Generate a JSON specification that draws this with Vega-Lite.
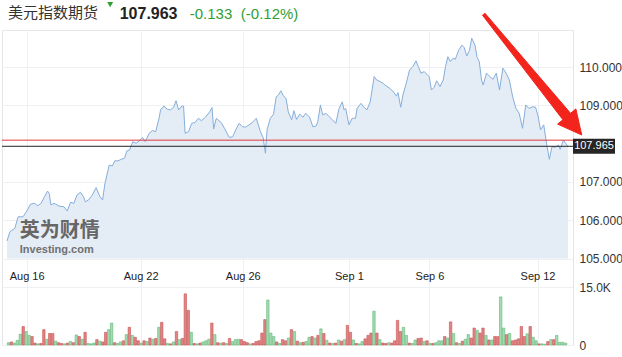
{
"$schema":"https://vega.github.io/schema/vega-lite/v6.json",
"width":571,"height":315,
"autosize":{"type":"none"},
"padding":{"left":2,"top":30,"right":49,"bottom":12},
"background":"#ffffff",
"config":{"view":{"stroke":"#e6e6e6"},"font":"Liberation Sans","axis":{"labelFont":"Liberation Sans"}},
"datasets":{
"price":[{"t":-0.5,"p":105.46},{"t":0.5,"p":105.70},{"t":2.17,"p":105.79},{"t":3.27,"p":106.09},{"t":4.93,"p":106.09},{"t":6.07,"p":106.22},{"t":7.5,"p":106.42},{"t":8.83,"p":106.44},{"t":9.93,"p":106.38},{"t":11.07,"p":106.44},{"t":12.17,"p":106.61},{"t":13.27,"p":106.76},{"t":13.83,"p":106.70},{"t":14.4,"p":106.40},{"t":15.5,"p":106.44},{"t":17.17,"p":106.37},{"t":18.83,"p":106.35},{"t":19.93,"p":106.24},{"t":21.07,"p":106.47},{"t":22.17,"p":106.44},{"t":23.27,"p":106.66},{"t":24.4,"p":106.73},{"t":25.5,"p":106.61},{"t":26.07,"p":106.48},{"t":27.17,"p":106.53},{"t":28.27,"p":106.64},{"t":29.73,"p":106.85},{"t":31.07,"p":106.61},{"t":31.93,"p":106.53},{"t":32.73,"p":106.96},{"t":34.17,"p":107.44},{"t":35.27,"p":107.42},{"t":36.07,"p":107.55},{"t":37.17,"p":107.55},{"t":38.27,"p":107.59},{"t":39.4,"p":107.62},{"t":40.17,"p":107.81},{"t":41.07,"p":107.83},{"t":42.17,"p":108.05},{"t":43.27,"p":108.01},{"t":44.4,"p":108.07},{"t":45.5,"p":108.16},{"t":46.4,"p":108.05},{"t":47.73,"p":108.27},{"t":48.83,"p":108.34},{"t":49.93,"p":108.31},{"t":51.07,"p":108.66},{"t":51.6,"p":108.88},{"t":52.73,"p":108.98},{"t":53.83,"p":108.90},{"t":54.93,"p":108.88},{"t":56.07,"p":108.95},{"t":56.83,"p":109.12},{"t":57.73,"p":108.88},{"t":58.83,"p":108.98},{"t":59.4,"p":108.98},{"t":59.93,"p":108.27},{"t":61.07,"p":108.31},{"t":62.17,"p":108.53},{"t":63.27,"p":108.55},{"t":64.4,"p":108.66},{"t":65.5,"p":108.60},{"t":66.83,"p":108.69},{"t":68.27,"p":108.83},{"t":69.07,"p":108.94},{"t":69.6,"p":108.38},{"t":70.5,"p":108.66},{"t":72.17,"p":108.55},{"t":73.27,"p":108.40},{"t":74.93,"p":108.16},{"t":76.07,"p":108.18},{"t":77.17,"p":108.37},{"t":78.27,"p":108.53},{"t":79.4,"p":108.44},{"t":80.5,"p":108.43},{"t":81.6,"p":108.49},{"t":82.73,"p":108.55},{"t":84.07,"p":108.66},{"t":85.5,"p":108.31},{"t":86.4,"p":108.16},{"t":87.17,"p":107.75},{"t":87.73,"p":108.36},{"t":88.83,"p":108.66},{"t":89.93,"p":108.77},{"t":90.83,"p":109.22},{"t":91.6,"p":109.27},{"t":92.4,"p":109.38},{"t":93.27,"p":109.25},{"t":94.17,"p":109.18},{"t":94.93,"p":108.83},{"t":96.07,"p":108.62},{"t":96.83,"p":108.86},{"t":97.73,"p":108.63},{"t":98.83,"p":108.77},{"t":99.93,"p":108.69},{"t":100.83,"p":108.79},{"t":102.17,"p":108.69},{"t":103.27,"p":108.44},{"t":104.4,"p":108.46},{"t":104.93,"p":108.57},{"t":105.83,"p":109.01},{"t":106.6,"p":108.75},{"t":107.73,"p":108.79},{"t":108.83,"p":108.70},{"t":109.93,"p":108.62},{"t":111.07,"p":108.53},{"t":112.17,"p":108.92},{"t":113.27,"p":109.09},{"t":113.83,"p":108.88},{"t":114.4,"p":108.92},{"t":115.5,"p":108.49},{"t":116.6,"p":108.66},{"t":117.73,"p":108.66},{"t":118.27,"p":108.92},{"t":119.6,"p":109.05},{"t":120.5,"p":108.96},{"t":121.6,"p":108.88},{"t":122.73,"p":109.09},{"t":123.27,"p":109.36},{"t":124.07,"p":109.75},{"t":124.93,"p":109.66},{"t":126.07,"p":109.62},{"t":127.17,"p":109.57},{"t":127.73,"p":109.53},{"t":129.4,"p":109.44},{"t":130.5,"p":109.36},{"t":131.6,"p":109.24},{"t":132.17,"p":109.33},{"t":133.07,"p":108.95},{"t":133.83,"p":109.27},{"t":134.93,"p":109.57},{"t":136.07,"p":109.92},{"t":137.17,"p":110.01},{"t":138.27,"p":110.16},{"t":139.07,"p":110.01},{"t":139.93,"p":109.84},{"t":141.07,"p":109.88},{"t":142.17,"p":109.79},{"t":142.73,"p":109.75},{"t":143.5,"p":109.40},{"t":144.4,"p":109.47},{"t":145.27,"p":109.64},{"t":146.4,"p":109.49},{"t":147.5,"p":109.66},{"t":148.27,"p":110.01},{"t":149.07,"p":110.27},{"t":149.93,"p":110.14},{"t":150.83,"p":110.23},{"t":151.6,"p":110.20},{"t":152.73,"p":110.44},{"t":153.83,"p":110.57},{"t":154.6,"p":110.51},{"t":155.5,"p":110.29},{"t":156.4,"p":110.44},{"t":157.17,"p":110.75},{"t":158.27,"p":110.57},{"t":159,"p":110.25},{"t":159.73,"p":110.14},{"t":160.5,"p":109.66},{"t":161.07,"p":109.53},{"t":162.17,"p":109.84},{"t":163.27,"p":109.75},{"t":164.4,"p":109.68},{"t":165.5,"p":109.84},{"t":166.6,"p":109.40},{"t":167.73,"p":109.97},{"t":168.83,"p":109.84},{"t":169.93,"p":109.66},{"t":171.07,"p":109.22},{"t":172.17,"p":108.92},{"t":173.27,"p":108.79},{"t":174.4,"p":108.40},{"t":175.5,"p":109.01},{"t":176.6,"p":108.92},{"t":177.73,"p":108.96},{"t":178.83,"p":108.95},{"t":179.73,"p":108.70},{"t":180.5,"p":108.36},{"t":181.6,"p":108.49},{"t":182.73,"p":107.92},{"t":183.5,"p":107.59},{"t":184.4,"p":107.92},{"t":185.5,"p":107.90},{"t":186.6,"p":107.96},{"t":187.17,"p":107.85},{"t":188.27,"p":108.09},{"t":189.07,"p":108.01},{"t":189.83,"p":107.92}],
"vol":[{"t":0,"v":600,"d":"u"},{"t":1,"v":800,"d":"d"},{"t":2,"v":500,"d":"u"},{"t":3,"v":1200,"d":"u"},{"t":4,"v":2800,"d":"u"},{"t":5,"v":4800,"d":"d"},{"t":6,"v":3500,"d":"u"},{"t":7,"v":2500,"d":"u"},{"t":8,"v":2200,"d":"d"},{"t":9,"v":500,"d":"d"},{"t":10,"v":300,"d":"u"},{"t":11,"v":400,"d":"d"},{"t":12,"v":4000,"d":"d"},{"t":13,"v":1500,"d":"u"},{"t":14,"v":3000,"d":"d"},{"t":15,"v":3000,"d":"d"},{"t":16,"v":1000,"d":"u"},{"t":17,"v":600,"d":"d"},{"t":18,"v":400,"d":"d"},{"t":19,"v":300,"d":"u"},{"t":20,"v":500,"d":"d"},{"t":21,"v":900,"d":"u"},{"t":22,"v":600,"d":"d"},{"t":23,"v":2600,"d":"u"},{"t":24,"v":2200,"d":"d"},{"t":25,"v":1500,"d":"u"},{"t":26,"v":3300,"d":"d"},{"t":27,"v":400,"d":"u"},{"t":28,"v":300,"d":"u"},{"t":29,"v":500,"d":"u"},{"t":30,"v":1400,"d":"d"},{"t":31,"v":1000,"d":"u"},{"t":32,"v":800,"d":"d"},{"t":33,"v":3300,"d":"d"},{"t":34,"v":4000,"d":"u"},{"t":35,"v":5700,"d":"u"},{"t":36,"v":600,"d":"d"},{"t":37,"v":400,"d":"u"},{"t":38,"v":800,"d":"u"},{"t":39,"v":1100,"d":"d"},{"t":40,"v":2700,"d":"u"},{"t":41,"v":4600,"d":"d"},{"t":42,"v":2500,"d":"u"},{"t":43,"v":2000,"d":"d"},{"t":44,"v":1100,"d":"d"},{"t":45,"v":500,"d":"u"},{"t":46,"v":1100,"d":"d"},{"t":47,"v":900,"d":"u"},{"t":48,"v":1800,"d":"d"},{"t":49,"v":1500,"d":"u"},{"t":50,"v":1700,"d":"d"},{"t":51,"v":4600,"d":"u"},{"t":52,"v":5900,"d":"d"},{"t":53,"v":1600,"d":"d"},{"t":54,"v":400,"d":"u"},{"t":55,"v":300,"d":"d"},{"t":56,"v":800,"d":"u"},{"t":57,"v":3500,"d":"d"},{"t":58,"v":1400,"d":"u"},{"t":59,"v":1700,"d":"d"},{"t":60,"v":13300,"d":"d"},{"t":61,"v":9000,"d":"d"},{"t":62,"v":3300,"d":"u"},{"t":63,"v":400,"d":"d"},{"t":64,"v":300,"d":"u"},{"t":65,"v":500,"d":"d"},{"t":66,"v":800,"d":"u"},{"t":67,"v":1100,"d":"u"},{"t":68,"v":1500,"d":"u"},{"t":69,"v":5700,"d":"d"},{"t":70,"v":2700,"d":"u"},{"t":71,"v":600,"d":"d"},{"t":72,"v":500,"d":"u"},{"t":73,"v":600,"d":"d"},{"t":74,"v":400,"d":"u"},{"t":75,"v":1700,"d":"d"},{"t":76,"v":900,"d":"u"},{"t":77,"v":1400,"d":"u"},{"t":78,"v":1500,"d":"u"},{"t":79,"v":1400,"d":"d"},{"t":80,"v":900,"d":"d"},{"t":81,"v":600,"d":"d"},{"t":82,"v":300,"d":"u"},{"t":83,"v":400,"d":"d"},{"t":84,"v":900,"d":"d"},{"t":85,"v":1100,"d":"d"},{"t":86,"v":3100,"d":"d"},{"t":87,"v":6600,"d":"d"},{"t":88,"v":11700,"d":"u"},{"t":89,"v":3100,"d":"u"},{"t":90,"v":2200,"d":"u"},{"t":91,"v":800,"d":"d"},{"t":92,"v":400,"d":"u"},{"t":93,"v":1400,"d":"d"},{"t":94,"v":1100,"d":"d"},{"t":95,"v":1800,"d":"u"},{"t":96,"v":4000,"d":"d"},{"t":97,"v":3500,"d":"u"},{"t":98,"v":1000,"d":"d"},{"t":99,"v":600,"d":"u"},{"t":100,"v":700,"d":"d"},{"t":101,"v":900,"d":"u"},{"t":102,"v":2000,"d":"u"},{"t":103,"v":2200,"d":"d"},{"t":104,"v":1800,"d":"u"},{"t":105,"v":2500,"d":"d"},{"t":106,"v":4200,"d":"u"},{"t":107,"v":3000,"d":"d"},{"t":108,"v":1200,"d":"u"},{"t":109,"v":500,"d":"d"},{"t":110,"v":400,"d":"u"},{"t":111,"v":500,"d":"d"},{"t":112,"v":1300,"d":"u"},{"t":113,"v":1000,"d":"d"},{"t":114,"v":1400,"d":"u"},{"t":115,"v":5100,"d":"d"},{"t":116,"v":3300,"d":"d"},{"t":117,"v":1300,"d":"u"},{"t":118,"v":400,"d":"d"},{"t":119,"v":300,"d":"u"},{"t":120,"v":900,"d":"u"},{"t":121,"v":1600,"d":"d"},{"t":122,"v":2500,"d":"d"},{"t":123,"v":3100,"d":"d"},{"t":124,"v":8800,"d":"u"},{"t":125,"v":3100,"d":"d"},{"t":126,"v":1400,"d":"u"},{"t":127,"v":500,"d":"d"},{"t":128,"v":400,"d":"d"},{"t":129,"v":600,"d":"u"},{"t":130,"v":500,"d":"d"},{"t":131,"v":1100,"d":"d"},{"t":132,"v":6400,"d":"d"},{"t":133,"v":3500,"d":"d"},{"t":134,"v":4600,"d":"u"},{"t":135,"v":2500,"d":"u"},{"t":136,"v":500,"d":"d"},{"t":137,"v":400,"d":"u"},{"t":138,"v":1300,"d":"u"},{"t":139,"v":1700,"d":"d"},{"t":140,"v":1800,"d":"d"},{"t":141,"v":900,"d":"u"},{"t":142,"v":1100,"d":"d"},{"t":143,"v":400,"d":"u"},{"t":144,"v":400,"d":"d"},{"t":145,"v":600,"d":"u"},{"t":146,"v":1100,"d":"u"},{"t":147,"v":1100,"d":"u"},{"t":148,"v":2200,"d":"d"},{"t":149,"v":1800,"d":"u"},{"t":150,"v":6000,"d":"d"},{"t":151,"v":3000,"d":"u"},{"t":152,"v":600,"d":"d"},{"t":153,"v":400,"d":"u"},{"t":154,"v":1000,"d":"d"},{"t":155,"v":1500,"d":"u"},{"t":156,"v":2700,"d":"u"},{"t":157,"v":1800,"d":"d"},{"t":158,"v":4400,"d":"d"},{"t":159,"v":3800,"d":"u"},{"t":160,"v":3100,"d":"d"},{"t":161,"v":4400,"d":"d"},{"t":162,"v":2500,"d":"u"},{"t":163,"v":1300,"d":"d"},{"t":164,"v":1300,"d":"u"},{"t":165,"v":2200,"d":"d"},{"t":166,"v":2200,"d":"d"},{"t":167,"v":12500,"d":"u"},{"t":168,"v":4400,"d":"u"},{"t":169,"v":2700,"d":"d"},{"t":170,"v":3000,"d":"u"},{"t":171,"v":1100,"d":"d"},{"t":172,"v":1300,"d":"d"},{"t":173,"v":1600,"d":"d"},{"t":174,"v":4800,"d":"d"},{"t":175,"v":2200,"d":"d"},{"t":176,"v":2900,"d":"u"},{"t":177,"v":4800,"d":"d"},{"t":178,"v":2000,"d":"u"},{"t":179,"v":1100,"d":"u"},{"t":180,"v":300,"d":"d"},{"t":181,"v":300,"d":"u"},{"t":182,"v":200,"d":"u"},{"t":183,"v":900,"d":"d"},{"t":184,"v":1400,"d":"u"},{"t":185,"v":1400,"d":"d"},{"t":186,"v":2500,"d":"u"},{"t":187,"v":700,"d":"u"},{"t":188,"v":700,"d":"u"},{"t":189,"v":500,"d":"u"}],
"levels":[{"level":"prev","p":108.09,"label":""},{"level":"last","p":107.93,"label":"107.965"}],
"arrow":[{"k":1,"t":161.57,"p":111.41},{"k":2,"t":190.7,"p":108.791},{"k":3,"t":192.5,"p":108.906},{"k":4,"t":194.5,"p":108.224},{"k":5,"t":186.3,"p":108.509},{"k":6,"t":188.1,"p":108.624},{"k":7,"t":160.77,"p":111.358}],
"header":[{"part":"name","label":"美元指数期货","t":-0.17,"p":111.29},{"part":"last","label":"107.963","t":37.73,"p":111.245},{"part":"chg","label":"-0.133","t":61.5,"p":111.245},{"part":"chg","label":"(-0.12%)","t":78.83,"p":111.245},{"part":"tri","label":"","t":34.5,"p":111.627}],
"logo":[{"part":"cn","label":"英为财情","t":3.83,"p":105.72},{"part":"en","label":"Investing.com","t":3.83,"p":105.22}]
},
"layer":[
{"data":{"name":"price"},"mark":{"type":"area","color":"#e4ecf5","opacity":1},
 "encoding":{
  "x":{"field":"t","type":"quantitative","scale":{"domain":[-0.5,189.83],"nice":false,"zero":false}},
  "y":{"field":"p","type":"quantitative","scale":{"domain":[102.742,110.966],"nice":false,"zero":false},"axis":null},
  "y2":{"datum":105}}},
{"data":{"name":"price"},"mark":{"type":"line","color":"#86aedb","strokeWidth":1},
 "encoding":{
  "x":{"field":"t","type":"quantitative","scale":{"domain":[-0.5,189.83],"nice":false,"zero":false},
   "axis":{"orient":"top","offset":-246,"values":[6.17,44.83,79.5,115.5,142.83,179.5],"labelExpr":"datum.value<20?'Aug 16':datum.value<60?'Aug 22':datum.value<100?'Aug 26':datum.value<130?'Sep 1':datum.value<160?'Sep 6':'Sep 12'","labelBaseline":"middle","labelPadding":0,"ticks":false,"tickSize":0,"domain":false,"grid":true,"gridColor":"#eef1f4","labelFontSize":11,"labelColor":"#222222","labelFlush":false,"labelOverlap":false,"title":null}},
  "y":{"field":"p","type":"quantitative","scale":{"domain":[102.742,110.966],"nice":false,"zero":false},
   "axis":{"orient":"right","values":[105,106,107,109,110],"format":".3f","labelFontSize":12,"labelColor":"#333333","labelPadding":6,"ticks":false,"tickSize":0,"domain":true,"domainColor":"#dfe5ec","grid":true,"gridColor":"#eef1f4","title":null}}}},
{"data":{"name":"levels"},"mark":{"type":"rule","strokeWidth":1},
 "encoding":{
  "y":{"field":"p","type":"quantitative","scale":{"domain":[102.742,110.966],"nice":false,"zero":false},"axis":null},
  "color":{"field":"level","type":"nominal","scale":{"domain":["prev","last"],"range":["#e0393b","#222222"]},"legend":null}}},
{"data":{"name":"levels"},"transform":[{"filter":"datum.level==='last'"}],"mark":{"type":"point","shape":"M0,-0.36H2V0.36H0Z","size":1764,"filled":true,"color":"#262626","opacity":1,"strokeWidth":0},
 "encoding":{
  "x":{"value":"width"},
  "y":{"field":"p","type":"quantitative","scale":{"domain":[102.742,110.966],"nice":false,"zero":false},"axis":null}}},
{"data":{"name":"levels"},"transform":[{"filter":"datum.level==='last'"}],"mark":{"type":"text","color":"#ffffff","fontSize":11,"align":"center","baseline":"middle","dx":21},
 "encoding":{
  "x":{"value":"width"},
  "y":{"field":"p","type":"quantitative","scale":{"domain":[102.742,110.966],"nice":false,"zero":false},"axis":null},
  "text":{"field":"label"}}},
{"data":{"name":"arrow"},"mark":{"type":"line","stroke":"#f3241c","fill":"#f3241c","strokeWidth":1},
 "encoding":{
  "x":{"field":"t","type":"quantitative","scale":{"domain":[-0.5,189.83],"nice":false,"zero":false}},
  "y":{"field":"p","type":"quantitative","scale":{"domain":[102.742,110.966],"nice":false,"zero":false},"axis":null},
  "order":{"field":"k","type":"quantitative"}}},
{"data":{"name":"header"},"transform":[{"filter":"datum.part==='name'"}],"mark":{"type":"text","align":"left","baseline":"alphabetic","font":"Noto Sans CJK SC","fontSize":15,"color":"#333333"},
 "encoding":{
  "x":{"field":"t","type":"quantitative","scale":{"domain":[-0.5,189.83],"nice":false,"zero":false}},
  "y":{"field":"p","type":"quantitative","scale":{"domain":[102.742,110.966],"nice":false,"zero":false},"axis":null},
  "text":{"field":"label"}}},
{"data":{"name":"header"},"transform":[{"filter":"datum.part==='last'"}],"mark":{"type":"text","align":"left","baseline":"alphabetic","font":"Liberation Sans","fontSize":16,"fontWeight":"bold","color":"#222222"},
 "encoding":{
  "x":{"field":"t","type":"quantitative","scale":{"domain":[-0.5,189.83],"nice":false,"zero":false}},
  "y":{"field":"p","type":"quantitative","scale":{"domain":[102.742,110.966],"nice":false,"zero":false},"axis":null},
  "text":{"field":"label"}}},
{"data":{"name":"header"},"transform":[{"filter":"datum.part==='chg'"}],"mark":{"type":"text","align":"left","baseline":"alphabetic","font":"Liberation Sans","fontSize":15,"color":"#2f9e33"},
 "encoding":{
  "x":{"field":"t","type":"quantitative","scale":{"domain":[-0.5,189.83],"nice":false,"zero":false}},
  "y":{"field":"p","type":"quantitative","scale":{"domain":[102.742,110.966],"nice":false,"zero":false},"axis":null},
  "text":{"field":"label"}}},
{"data":{"name":"header"},"transform":[{"filter":"datum.part==='tri'"}],"mark":{"type":"point","shape":"triangle-down","size":36,"filled":true,"color":"#2f9e33","opacity":1},
 "encoding":{
  "x":{"field":"t","type":"quantitative","scale":{"domain":[-0.5,189.83],"nice":false,"zero":false}},
  "y":{"field":"p","type":"quantitative","scale":{"domain":[102.742,110.966],"nice":false,"zero":false},"axis":null}}},
{"data":{"name":"logo"},"transform":[{"filter":"datum.part==='cn'"}],"mark":{"type":"text","align":"left","baseline":"middle","font":"Noto Sans CJK SC","fontSize":20,"fontWeight":"bold","color":"#666666"},
 "encoding":{
  "x":{"field":"t","type":"quantitative","scale":{"domain":[-0.5,189.83],"nice":false,"zero":false}},
  "y":{"field":"p","type":"quantitative","scale":{"domain":[102.742,110.966],"nice":false,"zero":false},"axis":null},
  "text":{"field":"label"}}},
{"data":{"name":"logo"},"transform":[{"filter":"datum.part==='en'"}],"mark":{"type":"text","align":"left","baseline":"middle","font":"Liberation Sans","fontSize":11,"fontWeight":"bold","color":"#707070"},
 "encoding":{
  "x":{"field":"t","type":"quantitative","scale":{"domain":[-0.5,189.83],"nice":false,"zero":false}},
  "y":{"field":"p","type":"quantitative","scale":{"domain":[102.742,110.966],"nice":false,"zero":false},"axis":null},
  "text":{"field":"label"}}},
{"data":{"name":"vol"},"mark":{"type":"bar","width":2.4,"strokeWidth":0.6},
 "encoding":{
  "x":{"field":"t","type":"quantitative","scale":{"domain":[-0.5,189.83],"nice":false,"zero":false}},
  "y":{"field":"v","type":"quantitative","scale":{"domain":[0,81890],"nice":false,"zero":true},
   "axis":{"orient":"right","values":[0,15000],"labelExpr":"datum.value>0?format(datum.value/1000,'.1f')+'K':'0'","labelFontSize":12,"labelColor":"#333333","labelPadding":6,"ticks":false,"tickSize":0,"domain":false,"grid":true,"gridColor":"#eef1f4","title":null}},
  "fill":{"field":"d","type":"nominal","scale":{"domain":["u","d"],"range":["#a3dab0","#e08484"]},"legend":null},
  "stroke":{"field":"d","type":"nominal","scale":{"domain":["u","d"],"range":["#62b97a","#c85252"]},"legend":null}}}
],
"resolve":{"scale":{"y":"independent"},"axis":{"y":"independent"}}
}
